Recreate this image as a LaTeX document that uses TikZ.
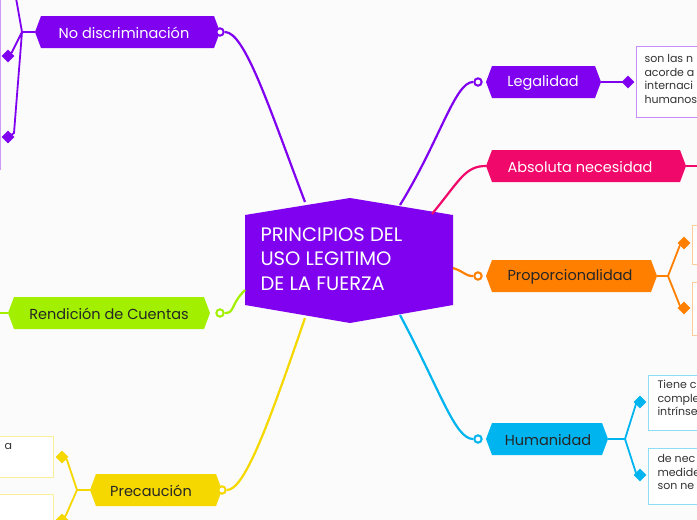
\documentclass[tikz,border=0pt]{standalone}
\usepackage{fontspec}
\setmainfont{Poppins}
\usetikzlibrary{shapes.geometric}
\begin{document}
\begin{tikzpicture}[x=1pt,y=-1pt,font=\fontsize{14.5}{17}\selectfont]
\definecolor{cpur}{HTML}{8000F0}\definecolor{cpink}{HTML}{F0086A}
\definecolor{corg}{HTML}{FF7F00}\definecolor{ccy}{HTML}{00B4F0}
\definecolor{clime}{HTML}{A2F000}\definecolor{cyel}{HTML}{F5D800}
\tikzset{con/.style={line width=2.2pt},
 dot/.style={circle,draw=#1,fill=white,line width=2pt,inner sep=2.6pt},
 dia/.style={diamond,fill=#1,inner sep=0pt,minimum size=13pt},
 sub/.style={draw=#1,line width=0.8pt,fill=white}}
\useasboundingbox (0,0) rectangle (697,520);
\fill[white!97!gray] (0,0) rectangle (697,520);
\newcommand{\topic}[6]{% name, xl, xr, yc, color, textcolor+text
 \fill[#5] (#2+6,#4-16) -- (#3-6,#4-16) -- (#3,#4) -- (#3-6,#4+16) -- (#2+6,#4+16) -- (#2,#4) -- cycle;
 \node[#6] (#1) at ({(#2+#3)/2},#4) {};}
% central
\fill[cpur] (245,215) -- (350,198) -- (453,215) -- (453,305) -- (350,323) -- (245,305) -- cycle;
\node[text=white,align=left,anchor=north west,font=\fontsize{19.5}{24.5}\selectfont] (c) at (257,224) {PRINCIPIOS DEL\\USO LEGITIMO\\DE LA FUERZA};
% connectors from center
\draw[con,cpur] (305,202) .. controls (270,110) and (245,32) .. (225,32);
\draw[con,cpur] (400,205) .. controls (440,140) and (455,82) .. (473,82);
\draw[con,cpink] (432,214) .. controls (460,180) and (465,166) .. (486,166);
\draw[con,corg] (453,268) .. controls (465,272) and (465,276) .. (473,276);
\draw[con,ccy] (400,315) .. controls (440,390) and (455,439) .. (473,439);
\draw[con,clime] (245,290) .. controls (230,305) and (235,313) .. (225,313);
\draw[con,cyel] (305,318) .. controls (270,420) and (245,490) .. (227,490);
% topics
\topic{nd}{35}{220}{32}{cpur}{}
\node[text=white] at (124,33) {No discriminación};
\topic{le}{486}{601}{82}{cpur}{}
\node[text=white] at (543,83) {Legalidad};
\topic{ab}{486}{686}{166}{cpink}{}
\node[text=white] at (580,167) {Absoluta necesidad};
\topic{pr}{486}{657}{276}{corg}{}
\node[text=black!85] at (570,277) {Proporcionalidad};
\topic{hu}{486}{608}{439}{ccy}{}
\node[text=black!85] at (548,440) {Humanidad};
\topic{re}{8}{210}{313}{clime}{}
\node[text=black!85] at (109,314) {Rendición de Cuentas};
\topic{pc}{90}{222}{490}{cyel}{}
\node[text=black!85] at (151,491) {Precaución};
% dots
\node[dot=cpur] at (220,32) {};\node[dot=cpur] at (478,82) {};
\node[dot=corg] at (478,276) {};\node[dot=ccy] at (478,439) {};
\node[dot=clime] at (220,313) {};\node[dot=cyel] at (222,490) {};
% subtopics
\tikzset{st/.style={font=\fontsize{11}{13.5}\selectfont,align=left,anchor=north west,text=black!80}}
\draw[con,cpur,line width=1.8pt] (601,82) -- (628,82);
\node[dia=cpur] at (628,82) {};
\draw[sub=cpur!45] (636,46) rectangle (700,117);
\node[st] at (641,51) {son las n\\acorde a\\internaci\\humanos};
\draw[con,cpink,line width=1.8pt] (686,166) -- (697,166);
\draw[con,corg,line width=1.8pt] (657,276) -- (668,276) -- (680,245) -- (685,243) (668,276) -- (680,306) -- (685,308);
\node[dia=corg] at (684,243) {};\node[dia=corg] at (684,308) {};
\draw[sub=corg!40] (692,225) rectangle (700,264);
\draw[sub=corg!40] (692,282) rectangle (700,335);
\draw[con,ccy,line width=1.8pt] (608,439) -- (625,439) -- (636,404) -- (640,402) (625,439) -- (636,473) -- (640,475);
\node[dia=ccy] at (640,402) {};\node[dia=ccy] at (640,475) {};
\draw[sub=ccy!45] (648,375) rectangle (700,430);
\node[st] at (654,377) {Tiene c\\comple\\intrínse};
\draw[sub=ccy!45] (648,448) rectangle (700,504);
\node[st] at (654,451) {de nec\\medide\\son ne};
\draw[con,cyel,line width=1.8pt] (90,490) -- (77,490) -- (67,460) -- (62,457) (77,490) -- (66,515) -- (62,520);
\node[dia=cyel] at (62,457) {};\node[dia=cyel] at (62,520) {};
\draw[sub=cyel!40] (-2,436) rectangle (53,477);
\node[st] at (1,440) {a};
\draw[sub=cyel!40] (-2,494) rectangle (53,530);
\draw[con,clime,line width=1.8pt] (8,313) -- (-2,313);
\draw[con,cpur,line width=1.8pt] (35,32) -- (22,32) -- (16,-2) (22,32) -- (12,52) -- (8,56) (22,32) -- (14,133) -- (8,137);
\node[dia=cpur] at (8,56) {};\node[dia=cpur] at (8,137) {};
\draw[cpur!40,line width=0.8pt] (0.5,0) -- (0.5,170);
\end{tikzpicture}
\end{document}
